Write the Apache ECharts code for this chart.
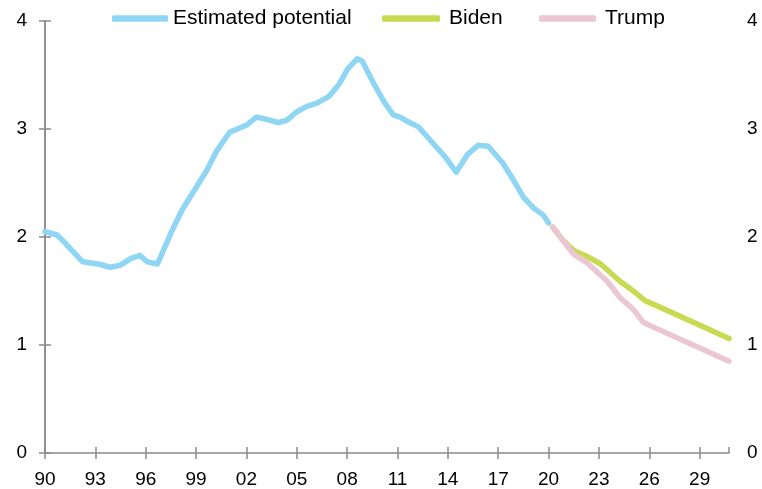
<!DOCTYPE html>
<html>
<head>
<meta charset="utf-8">
<script src="https://cdn.jsdelivr.net/npm/echarts@6/dist/echarts.min.js"></script>
<style>html,body{margin:0;padding:0;background:#fff;}#c{width:762px;height:489px;}</style>
</head>
<body>
<div id="c"></div>
<script>
var baseYear = 1990;
var tickLabels = ['90','93','96','99','02','05','08','11','14','17','20','23','26','29'];
var seriesNames = ['Estimated potential', 'Biden', 'Trump'];

var potentialYear = [1990.0,1990.7,1991.1,1991.7,1992.25,1993.15,1993.9,1994.5,1995.1,1995.65,1996.1,1996.7,1997.6,1998.2,1999.05,1999.65,2000.2,2001.0,2002.05,2002.6,2003.2,2003.9,2004.4,2005.0,2005.6,2006.2,2006.9,2007.5,2008.05,2008.6,2008.9,2009.55,2010.25,2010.75,2011.15,2011.6,2012.25,2013.1,2013.85,2014.5,2015.15,2015.8,2016.4,2017.25,2017.9,2018.5,2019.1,2019.7,2020.0];
var potentialValue = [2.05,2.02,1.96,1.86,1.77,1.75,1.72,1.74,1.80,1.83,1.77,1.75,2.07,2.26,2.47,2.62,2.79,2.97,3.04,3.11,3.09,3.06,3.08,3.16,3.21,3.24,3.30,3.41,3.56,3.65,3.63,3.43,3.24,3.13,3.11,3.07,3.02,2.87,2.74,2.60,2.76,2.85,2.84,2.69,2.53,2.37,2.27,2.20,2.13];

var bidenYear = [2020.25,2020.8,2021.5,2022.3,2023.1,2024.25,2025.05,2025.75,2026.5,2030.75];
var bidenValue = [2.09,1.98,1.875,1.82,1.75,1.59,1.50,1.41,1.36,1.06];

var trumpYear = [2020.25,2020.7,2021.5,2022.3,2023.5,2024.25,2025.05,2025.65,2025.9,2030.75];
var trumpValue = [2.09,2.00,1.84,1.76,1.59,1.44,1.33,1.21,1.19,0.85];

function pairs(years, values) {
  return years.map(function (y, i) { return [y - baseYear, values[i]]; });
}

var font = 'Liberation Sans, Arial, sans-serif';
var axisColor = '#8a8a8a';
var colors = ['#8fd6f5', '#c8da52', '#eac7d3'];
var legendLefts = [112, 382, 539];
var legendIconWidths = [56, 58, 57];
var legendTextPad = [0, 4, 4];
var chart = echarts.init(document.getElementById('c'));

function lineSeries(name, data, color) {
  return {
    name: name, type: 'line', data: data, xAxisIndex: 0, yAxisIndex: 0,
    showSymbol: false, symbol: 'none', smooth: false,
    lineStyle: { color: color, width: 5.5, cap: 'round', join: 'round' },
    itemStyle: { color: color },
    emphasis: { disabled: true }, animation: false
  };
}

function legendFor(i) {
  return {
    left: legendLefts[i], top: 8, padding: 0,
    icon: 'roundRect', itemWidth: legendIconWidths[i], itemHeight: 6.5,
    data: [seriesNames[i]],
    textStyle: { fontFamily: font, fontSize: 21, color: '#000', padding: [0, 0, 0, legendTextPad[i]] }
  };
}

chart.setOption({
  animation: false,
  backgroundColor: '#ffffff',
  grid: { left: 45, right: 33, top: 21, bottom: 35, containLabel: false },
  legend: [legendFor(0), legendFor(1), legendFor(2)],
  xAxis: [{
    type: 'value', min: 0, max: 40.75, interval: 3, position: 'bottom',
    axisLine: { show: true, onZero: false, lineStyle: { color: axisColor, width: 1.5 } },
    axisTick: { show: true, length: 6, lineStyle: { color: axisColor, width: 1.5 } },
    axisLabel: {
      fontFamily: font, fontSize: 19, color: '#000', margin: 17, showMaxLabel: false,
      formatter: function (v) { var i = Math.round(v / 3); return tickLabels[i] || ''; }
    },
    splitLine: { show: false }
  }, {
    type: 'value', min: 0, max: 40.75, interval: 3, position: 'bottom',
    axisLine: { show: false, onZero: false },
    axisTick: { show: true, inside: true, length: 6, lineStyle: { color: axisColor, width: 1.5 } },
    axisLabel: { show: false },
    splitLine: { show: false }
  }],
  yAxis: [{
    type: 'value', min: 0, max: 4, interval: 1, position: 'left',
    axisLine: { show: true, lineStyle: { color: axisColor, width: 1.5 } },
    axisTick: { show: true, length: 6, lineStyle: { color: axisColor, width: 1.5 } },
    axisLabel: { fontFamily: font, fontSize: 19, color: '#000', margin: 18 },
    splitLine: { show: false }
  }, {
    type: 'value', min: 0, max: 4, interval: 1, position: 'right',
    axisLine: { show: true, lineStyle: { color: axisColor, width: 1.5 } },
    axisTick: { show: true, length: 6, lineStyle: { color: axisColor, width: 1.5 } },
    axisLabel: { fontFamily: font, fontSize: 19, color: '#000', margin: 18 },
    splitLine: { show: false }
  }],
  series: [
    lineSeries(seriesNames[0], pairs(potentialYear, potentialValue), colors[0]),
    lineSeries(seriesNames[1], pairs(bidenYear, bidenValue), colors[1]),
    lineSeries(seriesNames[2], pairs(trumpYear, trumpValue), colors[2])
  ]
});
</script>
</body>
</html>
